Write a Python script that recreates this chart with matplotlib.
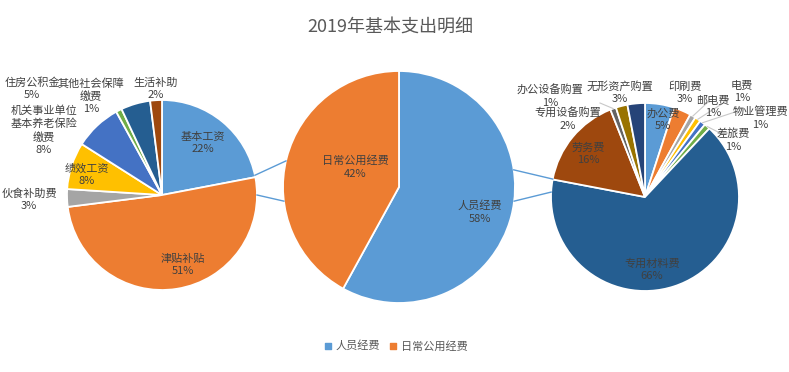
import numpy as np
import matplotlib
matplotlib.use('Agg')
import matplotlib.pyplot as plt

plt.rcParams['font.family'] = ['Noto Sans CJK SC', 'DejaVu Sans']

# 数据
main_labels = ['人员经费', '日常公用经费']
main_values = [58, 42]

staff_labels = ['基本工资', '津贴补贴', '伙食补助费', '绩效工资',
                '机关事业单位\n基本养老保险\n缴费', '其他社会保障\n缴费', '住房公积金', '生活补助']
staff_values = [22, 51, 3, 8, 8, 1, 5, 2]

daily_labels = ['办公费', '印刷费', '邮电费', '电费', '物业管理费', '差旅费',
                '专用材料费', '劳务费', '办公设备购置', '专用设备购置', '无形资产购置']
daily_values = [5, 3, 1, 1, 1, 1, 66, 16, 1, 2, 3]

# Excel 配色
palette = ['#5B9BD5', '#ED7D31', '#A5A5A5', '#FFC000', '#4472C4', '#70AD47',
           '#255E91', '#9E480E', '#636363', '#997300', '#264478']

W, H = 789, 372


def Y(y):
    return H - y


fig = plt.figure(figsize=(W / 100, H / 100), dpi=100)
ax = fig.add_axes([0, 0, 1, 1])

centers = {'main': (399, 187, 116), 'staff': (162, 195, 95), 'daily': (645, 197, 94)}

wedge_kw = dict(edgecolor='white', linewidth=1.3)


def draw_pie(key, values):
    cx, cy, r = centers[key]
    wedges, _ = ax.pie(values, colors=palette[:len(values)], startangle=90,
                       counterclock=False, center=(cx, Y(cy)), radius=r,
                       wedgeprops=wedge_kw, frame=True)
    return wedges


draw_pie('main', main_values)
staff_w = draw_pie('staff', staff_values)
daily_w = draw_pie('daily', daily_values)

txt_kw = dict(ha='center', va='center', fontsize=8, color='#404040', linespacing=1.3)

# 标签位置（像素）
main_pos = [(480, 212), (355, 167)]
staff_pos = [(203, 143), (183, 265), (29, 200), (87, 175), (44, 130), (91, 96), (32, 89), (156, 89)]
daily_pos = [(663, 120), (685, 93), (713, 107), (742, 92), (760, 118), (733, 140),
             (652, 270), (588, 154), (550, 96), (568, 119), (620, 92)]

for lab, v, (x, y) in zip(main_labels, main_values, main_pos):
    ax.text(x, Y(y), f'{lab}\n{v}%', **txt_kw)
for lab, v, (x, y) in zip(staff_labels, staff_values, staff_pos):
    ax.text(x, Y(y), f'{lab}\n{v}%', **txt_kw)
for lab, v, (x, y) in zip(daily_labels, daily_values, daily_pos):
    ax.text(x, Y(y), f'{lab}\n{v}%', **txt_kw)

# 引导线（右侧小扇区）
leader = {2: (707, 103), 3: (728, 100), 4: (735, 112), 5: (720, 133), 8: (600, 103)}
cx, cy, r = centers['daily']
for i, (lx, ly) in leader.items():
    w = daily_w[i]
    a = np.deg2rad((w.theta1 + w.theta2) / 2)
    px, py = cx + r * np.cos(a), Y(cy) + r * np.sin(a)
    ax.plot([px, lx], [py, Y(ly)], color='#C8C8C8', lw=0.8)

# 连接线
def edge_pt(key, ang):
    cx, cy, r = centers[key]
    a = np.deg2rad(ang)
    return cx + r * np.cos(a), Y(cy) + r * np.sin(a)


for (k1, a1), (k2, a2) in [(('staff', 12), ('main', 167)), (('staff', 0), ('main', 187)),
                           (('main', 8.5), ('daily', 169)), (('main', -7), ('daily', 177))]:
    p1, p2 = edge_pt(k1, a1), edge_pt(k2, a2)
    ax.plot([p1[0], p2[0]], [p1[1], p2[1]], color='#5B9BD5', lw=1)

ax.text(390, Y(27), '2019年基本支出明细', ha='center', va='center', fontsize=13, color='#595959')

# 图例
for lab, col, x in zip(main_labels, palette[:2], [328, 393]):
    ax.scatter([x], [Y(346)], marker='s', s=22, color=col)
    ax.text(x + 8, Y(346), lab, ha='left', va='center', fontsize=8, color='#595959')

ax.set_xlim(0, W)
ax.set_ylim(0, H)
ax.set_aspect('auto')
ax.axis('off')

fig.savefig('out.png', dpi=100)
